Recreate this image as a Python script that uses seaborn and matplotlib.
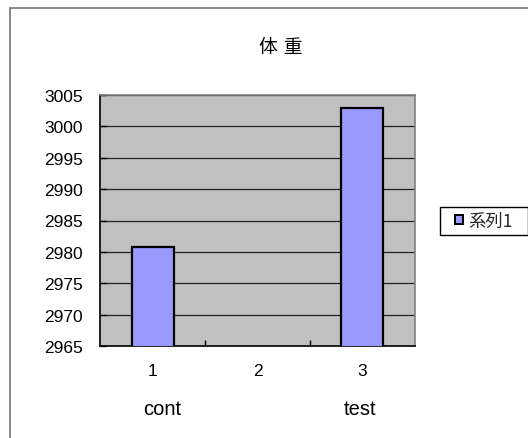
import numpy as np
import pandas as pd
import matplotlib
matplotlib.use("Agg")
import matplotlib.pyplot as plt
from matplotlib.patches import Patch, Rectangle
from matplotlib.lines import Line2D
import seaborn as sns

# ---- data ----
categories = ["1", "2", "3"]
values = [2980.8, np.nan, 3003.0]
group_labels = ["cont", "", "test"]
series_name = "系列1"
title = "体 重"
y_ticks = [2965, 2970, 2975, 2980, 2985, 2990, 2995, 3000, 3005]

sns.set_theme(style="white")
plt.rcParams['font.family'] = ['Noto Sans CJK JP', 'DejaVu Sans']

W, H = 528, 439
fig = plt.figure(figsize=(W / 100, H / 100), dpi=100)
fig.patch.set_facecolor("white")

L, R, T, B = 100, 415, 96, 347
ax = fig.add_axes([L / W, 1 - B / H, (R - L) / W, (B - T) / H])
ax.set_facecolor("#C0C0C0")

df = pd.DataFrame({"cat": categories, "val": values})
sns.barplot(data=df, x="cat", y="val", ax=ax, color="#9999FF", saturation=1,
            width=0.4, edgecolor="black", linewidth=1.6, zorder=3)

ax.set_ylim(y_ticks[0], y_ticks[-1])
ax.set_xlim(-0.5, 2.5)
ax.set_yticks(y_ticks)
ax.set_yticklabels([str(t) for t in y_ticks], family=['Liberation Sans'])
ax.set_xticks(range(len(categories)))
ax.set_xticklabels(categories, family=['Liberation Sans'])
ax.grid(axis="y", color="#202020", linewidth=0.9, zorder=1)
ax.set_axisbelow(True)
ax.set_xlabel("")
ax.set_ylabel("")

ax.tick_params(axis="y", direction="in", length=4, width=1, color="black",
               pad=12.5, labelsize=12.5, labelcolor="black", left=True)
ax.tick_params(axis="x", which="major", length=0, pad=12.5, labelsize=12.5,
               labelcolor="black")
ax.set_xticks([0.5, 1.5], minor=True)
ax.tick_params(axis="x", which="minor", direction="in", length=4, width=1,
               color="black", bottom=True)

for side in ["left", "bottom"]:
    ax.spines[side].set_color("black")
    ax.spines[side].set_linewidth(1.2)
for side in ["top", "right"]:
    ax.spines[side].set_color("#808080")
    ax.spines[side].set_linewidth(1.2)
    ax.spines[side].set_visible(True)

# group names under tick labels
offsets = [0.093, 0, -0.024]
for i, lab in enumerate(group_labels):
    if lab:
        ax.text(i + offsets[i], -0.271, lab, transform=ax.get_xaxis_transform(),
                ha="center", va="baseline", fontsize=14.5, color="black",
                family=['Liberation Sans'])

# title
fig.text(281 / W, 1 - 47 / H, title, ha="center", va="center", fontsize=13.5,
         color="black", family=['DejaVu Sans', 'Noto Sans CJK JP'])

# legend frame + legend
fig.add_artist(Rectangle((439.5 / W, 1 - 236 / H), 88 / W, 28 / H,
                         transform=fig.transFigure, facecolor="white",
                         edgecolor="black", linewidth=1.0))
handle = Patch(facecolor="#9999FF", edgecolor="black", linewidth=1.4,
               label=series_name)
leg = fig.legend(handles=[handle], loc="center left",
                 bbox_to_anchor=(455 / W, 1 - 222 / H), frameon=False,
                 fontsize=12.5, handlelength=0.45, handleheight=0.45,
                 handletextpad=0.3, borderpad=0, borderaxespad=0)

# outer chart border (left and top visible)
fig.add_artist(Line2D([9.5 / W, 9.5 / W], [0, 1 - 8.5 / H],
                      transform=fig.transFigure, color="#808080", linewidth=1.3))
fig.add_artist(Line2D([9.5 / W, 1], [1 - 8.5 / H, 1 - 8.5 / H],
                      transform=fig.transFigure, color="#808080", linewidth=1.3))

fig.savefig("out.png", dpi=100, facecolor="white")
